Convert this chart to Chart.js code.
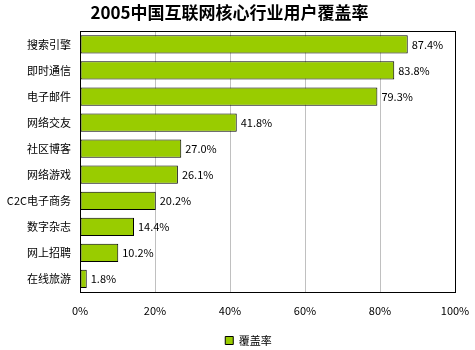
<!DOCTYPE html>
<html>
<head>
<meta charset="utf-8">
<script src="https://cdn.jsdelivr.net/npm/chart.js@4"></script>
<style>
  html, body { margin: 0; padding: 0; background: #fff; }
  #wrap { width: 475px; height: 350px; }
</style>
</head>
<body>
<div id="wrap"><canvas id="chart"></canvas></div>
<script>
const categories = ['搜索引擎', '即时通信', '电子邮件', '网络交友', '社区博客', '网络游戏', 'C2C电子商务', '数字杂志', '网上招聘', '在线旅游'];
const coverage = [87.4, 83.8, 79.3, 41.8, 27.0, 26.1, 20.2, 14.4, 10.2, 1.8];
const xTicks = [0, 20, 40, 60, 80, 100];

const FONT = '"Noto Sans CJK SC", "DejaVu Sans", sans-serif';

// value labels at the end of each bar
const valueLabels = {
  id: 'valueLabels',
  afterDatasetsDraw(chart) {
    const ctx = chart.ctx;
    const meta = chart.getDatasetMeta(0);
    ctx.save();
    ctx.font = '11px ' + FONT;
    ctx.fillStyle = '#000';
    ctx.textBaseline = 'middle';
    ctx.textAlign = 'left';
    meta.data.forEach((bar, i) => {
      ctx.fillText(coverage[i].toFixed(1) + '%', bar.x + 4, bar.y);
    });
    ctx.restore();
  }
};

// black frame around the plot area
const plotFrame = {
  id: 'plotFrame',
  afterDraw(chart) {
    const a = chart.chartArea;
    const ctx = chart.ctx;
    ctx.save();
    ctx.strokeStyle = '#000';
    ctx.lineWidth = 1;
    ctx.strokeRect(Math.round(a.left) + 0.5, Math.round(a.top) + 0.5,
      Math.round(a.right - a.left), Math.round(a.bottom - a.top));
    ctx.restore();
  }
};

// nudge the legend a bit to the right of the page centre
const legendShift = {
  id: 'legendShift',
  afterLayout(chart) {
    if (chart.legend) chart.legend.left += 38;
  }
};

new Chart(document.getElementById('chart'), {
  type: 'bar',
  data: {
    labels: categories,
    datasets: [{
      label: '覆盖率',
      data: coverage,
      backgroundColor: '#99CC00',
      borderColor: '#000',
      borderWidth: 1,
      borderSkipped: false,
      categoryPercentage: 1,
      barPercentage: 0.7
    }]
  },
  options: {
    indexAxis: 'y',
    responsive: true,
    maintainAspectRatio: false,
    animation: false,
    layout: { padding: { left: 4, right: 20, top: 0, bottom: -6 } },
    scales: {
      x: {
        min: 0,
        max: 100,
        afterBuildTicks(scale) {
          scale.ticks = xTicks.map(v => ({ value: v }));
        },
        ticks: {
          callback: v => v + '%',
          color: '#000',
          font: { family: FONT, size: 11 },
          padding: 12,
          maxRotation: 0
        },
        grid: {
          color: ctx => (ctx.tick && (ctx.tick.value === 0 || ctx.tick.value === 100)) ? '#000' : '#c0c0c0',
          drawTicks: false
        },
        border: { display: false },
        afterFit(scale) {
          scale.height = 39;
          scale.paddingLeft = 0;
          scale.paddingRight = 0;
        }
      },
      y: {
        ticks: {
          color: '#000',
          font: { family: FONT, size: 11 },
          padding: 9
        },
        grid: { display: false, drawTicks: false },
        border: { display: false },
        afterFit(scale) { scale.width = 76; }
      }
    },
    plugins: {
      title: {
        display: true,
        text: '2005中国互联网核心行业用户覆盖率',
        color: '#000',
        font: { family: FONT, size: 17, weight: 'bold' },
        padding: { top: 2, bottom: 9 }
      },
      legend: {
        position: 'bottom',
        labels: {
          color: '#000',
          font: { family: FONT, size: 11 },
          boxWidth: 8,
          boxHeight: 8,
          padding: 4
        }
      },
      tooltip: { enabled: false }
    }
  },
  plugins: [valueLabels, plotFrame, legendShift]
});
</script>
</body>
</html>
